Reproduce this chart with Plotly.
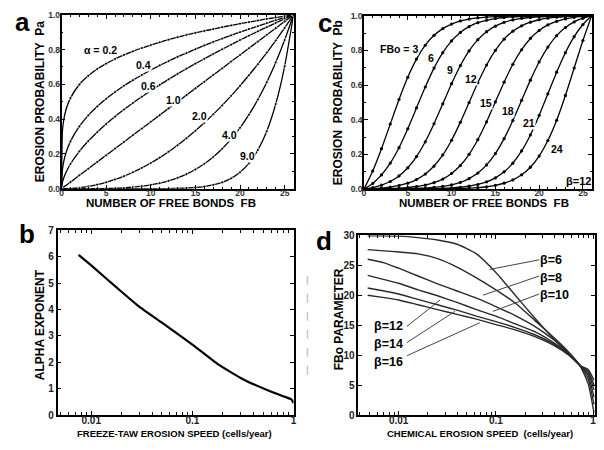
import numpy as np
import plotly.graph_objects as go

# ---------------- Panel a : Pa vs FB for several alpha ----------------
fb_a = [0, 0.1, 0.25, 0.5] + list(range(1, 27))
alpha_labels = ["\u03b1 = 0.2", "0.4", "0.6", "1.0", "2.0", "4.0", "9.0"]
pa_02 = [0, 0.329, 0.395, 0.454, 0.521, 0.599, 0.649, 0.688, 0.719, 0.746, 0.769, 0.790, 0.809, 0.826,
         0.842, 0.857, 0.871, 0.884, 0.896, 0.907, 0.918, 0.929, 0.939, 0.949, 0.958, 0.967, 0.976,
         0.984, 0.992, 1.0]
pa_04 = [0, 0.108, 0.156, 0.206, 0.272, 0.358, 0.422, 0.473, 0.517, 0.556, 0.592, 0.624, 0.654, 0.682,
         0.709, 0.734, 0.758, 0.780, 0.802, 0.824, 0.844, 0.863, 0.882, 0.900, 0.918, 0.935, 0.952,
         0.969, 0.984, 1.0]
pa_06 = [0, 0.036, 0.062, 0.093, 0.142, 0.215, 0.274, 0.325, 0.372, 0.415, 0.455, 0.493, 0.529, 0.563,
         0.597, 0.629, 0.660, 0.690, 0.719, 0.747, 0.775, 0.802, 0.828, 0.855, 0.880, 0.905, 0.929,
         0.953, 0.977, 1.0]
pa_10 = [0, 0.004, 0.010, 0.019, 0.038, 0.077, 0.115, 0.154, 0.192, 0.231, 0.269, 0.308, 0.346, 0.385,
         0.423, 0.462, 0.500, 0.538, 0.577, 0.615, 0.654, 0.692, 0.731, 0.769, 0.808, 0.846, 0.885,
         0.923, 0.962, 1.0]
pa_20 = [0, 0, 0.0001, 0.0004, 0.0015, 0.0059, 0.0133, 0.0237, 0.037, 0.0533, 0.0725, 0.0947, 0.1198,
         0.1479, 0.179, 0.213, 0.25, 0.29, 0.3328, 0.3787, 0.4275, 0.4793, 0.534, 0.5917, 0.6524,
         0.716, 0.7825, 0.8521, 0.9246, 1.0]
pa_40 = [0, 0, 0, 0, 0.0, 0.0, 0.0002, 0.0006, 0.0014, 0.0028, 0.0053, 0.009, 0.0144, 0.0219, 0.032,
         0.0454, 0.0625, 0.0841, 0.1108, 0.1434, 0.1828, 0.2297, 0.2852, 0.3501, 0.4256, 0.5127,
         0.6123, 0.7261, 0.8549, 1.0]
pa_90 = [0, 0, 0, 0, 0, 0, 0, 0, 0, 0, 0, 0, 0.0001, 0.0002, 0.0004, 0.001, 0.002, 0.0038, 0.0071,
         0.0126, 0.0218, 0.0365, 0.0593, 0.0946, 0.1457, 0.2224, 0.3305, 0.4868, 0.704, 1.0]
alpha_label_x = [4.4, 9.2, 9.7, 12.5, 15.5, 18.8, 20.8]
alpha_label_y = [0.80, 0.71, 0.59, 0.51, 0.42, 0.31, 0.19]

# ---------------- Panel c : Pb vs FB for several FBo (beta = 12) ----------------
fb_c = list(range(0, 27))
fbo_labels = ["FBo = 3", "6", "9", "12", "15", "18", "21", "24"]
pb_3 = [0, 0.105, 0.233, 0.375, 0.517, 0.645, 0.750, 0.830, 0.887, 0.926, 0.952, 0.970, 0.981, 0.988,
        0.992, 0.995, 0.997, 0.998, 0.999, 0.999, 0.9995, 0.9997, 0.9998, 0.9999, 0.9999, 1.0, 1.0]
pb_6 = [0, 0.033, 0.082, 0.150, 0.239, 0.348, 0.469, 0.589, 0.698, 0.787, 0.855, 0.904, 0.937, 0.960,
        0.974, 0.984, 0.990, 0.994, 0.996, 0.998, 0.998, 0.999, 0.9994, 0.9996, 0.9998, 0.9999, 1.0]
pb_9 = [0, 0.009, 0.023, 0.044, 0.076, 0.123, 0.188, 0.273, 0.377, 0.492, 0.608, 0.712, 0.797, 0.862,
        0.908, 0.940, 0.962, 0.976, 0.985, 0.990, 0.994, 0.996, 0.998, 0.999, 0.9994, 0.9998, 1.0]
pb_12 = [0, 0.002, 0.006, 0.012, 0.021, 0.034, 0.055, 0.087, 0.133, 0.197, 0.282, 0.385, 0.499, 0.613,
         0.716, 0.800, 0.865, 0.911, 0.942, 0.963, 0.977, 0.986, 0.992, 0.995, 0.998, 0.999, 1.0]
pb_15 = [0, 0.001, 0.001, 0.003, 0.005, 0.009, 0.015, 0.023, 0.037, 0.058, 0.090, 0.136, 0.201, 0.285,
         0.388, 0.503, 0.617, 0.720, 0.804, 0.869, 0.915, 0.947, 0.968, 0.982, 0.991, 0.996, 1.0]
pb_18 = [0, 0.0001, 0.0004, 0.0008, 0.0013, 0.0023, 0.0038, 0.0061, 0.0098, 0.0156, 0.0247, 0.0387,
         0.0602, 0.0925, 0.1395, 0.2051, 0.2912, 0.3961, 0.5123, 0.6286, 0.7335, 0.8196, 0.8852,
         0.9321, 0.9644, 0.9860, 1.0]
pb_21 = [0, 0.0, 0.0001, 0.0002, 0.0004, 0.0006, 0.001, 0.0017, 0.0026, 0.0042, 0.0067, 0.0107, 0.0169,
         0.0267, 0.0418, 0.0648, 0.0995, 0.1498, 0.2202, 0.3125, 0.4250, 0.5497, 0.6744, 0.7869,
         0.8793, 0.9497, 1.0]
pb_24 = [0, 0, 0, 0.0001, 0.0001, 0.0002, 0.0003, 0.0005, 0.0008, 0.0014, 0.0022, 0.0034, 0.0054,
         0.0086, 0.0137, 0.0216, 0.0340, 0.0531, 0.0824, 0.1264, 0.1904, 0.2799, 0.3972, 0.5402,
         0.6986, 0.8571, 1.0]
fbo_label_x = [3.96, 7.67, 9.82, 12.2, 13.9, 16.5, 18.9, 22.0]
fbo_label_y = [0.81, 0.756, 0.685, 0.634, 0.497, 0.452, 0.381, 0.231]

# ---------------- Panel b : alpha exponent vs freeze-thaw erosion speed ----------------
b_speed = [0.0075, 0.01, 0.018, 0.03, 0.05, 0.1, 0.178, 0.316, 0.562, 0.794, 0.955, 1.0]
b_alpha = [6.07, 5.67, 4.82, 4.10, 3.50, 2.67, 1.93, 1.36, 0.93, 0.71, 0.59, 0.45]

# ---------------- Panel d : FBo parameter vs chemical erosion speed ----------------
d_speed = [0.0048, 0.0071, 0.01, 0.0158, 0.0251, 0.0398, 0.0631, 0.1, 0.158, 0.251, 0.398, 0.562,
           0.741, 0.891, 1.02]
d_b6 = [29.9, 29.9, 29.85, 29.6, 29.2, 28.5, 26.9, 23.8, 20.0, 16.2, 12.6, 10.2, 8.1, 5.2, 0.4]
d_b8 = [27.6, 27.4, 27.2, 26.9, 26.1, 24.7, 22.9, 20.9, 18.7, 15.8, 12.9, 10.5, 8.2, 6.0, 1.8]
d_b10 = [26.0, 25.4, 24.5, 23.2, 21.9, 20.7, 19.5, 18.1, 16.6, 14.8, 12.5, 10.4, 8.2, 6.6, 3.0]
d_b12 = [23.3, 22.6, 22.0, 20.9, 19.9, 18.8, 17.6, 16.5, 15.2, 13.9, 12.0, 10.2, 8.2, 7.0, 4.2]
d_b14 = [21.2, 20.7, 20.2, 19.3, 18.4, 17.5, 16.5, 15.6, 14.6, 13.4, 11.8, 10.1, 8.2, 7.3, 5.0]
d_b16 = [20.0, 19.6, 19.2, 18.4, 17.6, 16.8, 16.0, 15.1, 14.2, 13.1, 11.6, 10.0, 8.2, 7.6, 5.8]
beta_labels = ["6", "8", "10", "12", "14", "16"]
beta_label_x = [0.279, 0.279, 0.279, 0.01216, 0.01216, 0.01216]
beta_label_y = [25.9, 23.2, 20.2, 14.8, 12.1, 9.9]
beta_text_y = [25.8, 22.9, 20.1, 14.8, 11.9, 8.8]
beta_tip_x = [0.0863, 0.0736, 0.0931, 0.0267, 0.0379, 0.0682]
beta_tip_y = [24.3, 20.0, 17.3, 19.2, 17.3, 15.4]

FONT = "Liberation Sans"
fig = go.Figure()

int_sizes = [3.2 if float(v).is_integer() else 0 for v in fb_a]
for ys in [pa_02, pa_04, pa_06, pa_10, pa_20, pa_40, pa_90]:
    fig.add_trace(go.Scatter(x=fb_a, y=ys, mode="lines+markers", xaxis="x", yaxis="y",
                             line=dict(color="black", width=1.3, shape="spline", smoothing=0.5),
                             marker=dict(size=int_sizes, color="black"), showlegend=False,
                             hoverinfo="skip"))
for ys in [pb_3, pb_6, pb_9, pb_12, pb_15, pb_18, pb_21, pb_24]:
    fig.add_trace(go.Scatter(x=fb_c, y=ys, mode="lines+markers", xaxis="x2", yaxis="y2",
                             line=dict(color="black", width=1.3, shape="spline", smoothing=0.5),
                             marker=dict(size=3.2, color="black"), showlegend=False,
                             hoverinfo="skip"))
fig.add_trace(go.Scatter(x=b_speed, y=b_alpha, mode="lines", xaxis="x3", yaxis="y3",
                         line=dict(color="black", width=2.2, shape="spline", smoothing=0.4),
                         showlegend=False, hoverinfo="skip"))
for ys in [d_b6, d_b8, d_b10, d_b12, d_b14, d_b16]:
    fig.add_trace(go.Scatter(x=d_speed, y=ys, mode="lines", xaxis="x4", yaxis="y4",
                             line=dict(color="#2a2a2a", width=1.4, shape="spline", smoothing=0.5),
                             showlegend=False, hoverinfo="skip"))
for lx, ly, tx, ty in zip(beta_label_x, beta_label_y, beta_tip_x, beta_tip_y):
    fig.add_trace(go.Scatter(x=[lx, tx], y=[ly, ty], mode="lines", xaxis="x4", yaxis="y4",
                             line=dict(color="#444", width=1.0), showlegend=False,
                             hoverinfo="skip"))

W, H = 604.0, 450.0


def dom_x(a, b):
    return [a / W, b / W]


def dom_y(top, bottom):
    return [1 - bottom / H, 1 - top / H]


tickfont_small = dict(family=FONT, size=8.5, color="#333", weight="bold")
tickfont_big = dict(family=FONT, size=10, color="#222", weight="bold")
base = dict(showline=True, linecolor="black", linewidth=1.6, mirror="allticks", ticks="inside",
            ticklen=4, tickwidth=1, tickcolor="black", showgrid=False, zeroline=False)

logminor = [v * 10.0 ** e for e in (-3, -2, -1) for v in range(2, 10)]

fig.update_layout(
    width=604, height=450, margin=dict(l=0, r=0, t=0, b=0),
    paper_bgcolor="white", plot_bgcolor="white",
    xaxis=dict(base, domain=dom_x(60, 294), anchor="y", range=[0, 26], tickvals=[0, 5, 10, 15, 20, 25],
               tickfont=tickfont_small, ticklabelstandoff=-5,
               minor=dict(ticks="inside", ticklen=2, dtick=1, tickcolor="black")),
    yaxis=dict(base, domain=dom_y(9, 187.3), anchor="x", range=[0, 1], tickvals=[0, 0.2, 0.4, 0.6, 0.8, 1.0],
               tickformat=".1f", tickfont=tickfont_small, ticklabelstandoff=-2,
               minor=dict(ticks="inside", ticklen=2, dtick=0.1, tickcolor="black")),
    xaxis2=dict(base, domain=dom_x(365, 594.6), anchor="y2", range=[0, 26], tickvals=[0, 5, 10, 15, 20, 25],
                tickfont=tickfont_small, ticklabelstandoff=-5,
                minor=dict(ticks="inside", ticklen=2, dtick=1, tickcolor="black")),
    yaxis2=dict(base, domain=dom_y(10, 187.7), anchor="x2", range=[0, 1],
                tickvals=[0, 0.2, 0.4, 0.6, 0.8, 1.0], tickformat=".1f", tickfont=tickfont_small,
                ticklabelstandoff=-2,
                minor=dict(ticks="inside", ticklen=2, dtick=0.1, tickcolor="black")),
    xaxis3=dict(base, domain=dom_x(56, 294), anchor="y3", type="log", range=[-2.333, 0],
                tickvals=[0.01, 0.1, 1], ticktext=["0.01", "0.1", "1"], tickfont=tickfont_big,
                ticklabelstandoff=-5,
                minor=dict(ticks="inside", ticklen=3, tickvals=logminor, tickcolor="black")),
    yaxis3=dict(base, domain=dom_y(230, 419.3), anchor="x3", range=[0, 7], dtick=1,
                tickfont=tickfont_big),
    xaxis4=dict(base, domain=dom_x(359.3, 598), anchor="y4", type="log", range=[-2.415, 0.02],
                tickvals=[0.01, 0.1, 1], ticktext=["0.01", "0.1", "1"], tickfont=tickfont_big,
                ticklabelstandoff=-5,
                minor=dict(ticks="inside", ticklen=3, tickvals=logminor, tickcolor="black")),
    yaxis4=dict(base, domain=dom_y(235, 419.3), anchor="x4", range=[0, 30], dtick=5,
                tickfont=tickfont_big),
)

ann = []


def paper_text(text, px, py, size, angle=0):
    ann.append(dict(text=text, x=px / W, y=1 - py / H, xref="paper", yref="paper", showarrow=False,
                    textangle=angle, xanchor="center", yanchor="middle",
                    font=dict(family=FONT, size=size, color="black", weight="bold")))


# panel letters
paper_text("a", 20.5, 16.5, 26)
paper_text("c", 325.5, 17.5, 26)
paper_text("b", 25, 234, 26)
paper_text("d", 325, 241, 26)
# axis titles
paper_text("EROSION PROBABILITY  Pa", 38, 98, 12, -90)
paper_text("NUMBER OF FREE BONDS  FB", 170, 202, 11.5)
paper_text("EROSION  PROBABILITY  Pb", 338.5, 99, 12, -90)
paper_text("NUMBER OF FREE BONDS  FB", 486, 202, 11.5)
paper_text("ALPHA EXPONENT", 38.5, 327, 12, -90)
paper_text("FREEZE-TAW EROSION SPEED (cells/year)", 174, 438, 9.5)
paper_text("FBo PARAMETER", 340, 321, 12, -90)
paper_text("CHEMICAL EROSION SPEED  (cells/year)", 482, 438, 9.5)

# curve labels panel a
for t, x, y in zip(alpha_labels, alpha_label_x, alpha_label_y):
    ann.append(dict(text=t, x=x, y=y, xref="x", yref="y", showarrow=False, bgcolor="white",
                    borderpad=0, font=dict(family=FONT, size=10.5, color="black", weight="bold")))
# curve labels panel c
for t, x, y in zip(fbo_labels, fbo_label_x, fbo_label_y):
    ann.append(dict(text=t, x=x, y=y, xref="x2", yref="y2", showarrow=False, bgcolor="white",
                    borderpad=0, font=dict(family=FONT, size=10.5, color="black", weight="bold")))
ann.append(dict(text="\u03b2=12", x=24.5, y=0.047, xref="x2", yref="y2", showarrow=False,
                font=dict(family=FONT, size=11, color="black", weight="bold")))
# beta labels panel d
for i, (t, x, y) in enumerate(zip(beta_labels, beta_label_x, beta_text_y)):
    right_side = i < 3
    ann.append(dict(text="\u03b2=" + t, x=np.log10(x), y=y, xref="x4", yref="y4", showarrow=False,
                    xanchor="left" if right_side else "right", xshift=-1 if right_side else -2,
                    yanchor="middle",
                    font=dict(family=FONT, size=12.5, color="black", weight="bold")))

fig.update_layout(annotations=ann)
fig.add_shape(type="line", xref="paper", yref="paper", x0=308 / W, x1=308 / W,
              y0=1 - 378 / H, y1=1 - 268 / H, line=dict(color="#c8c8c8", width=1.5, dash="dash"))

fig.write_html("out.html", config={"displayModeBar": False},
               post_script="document.body.style.margin='0px';document.body.style.padding='0px';")
